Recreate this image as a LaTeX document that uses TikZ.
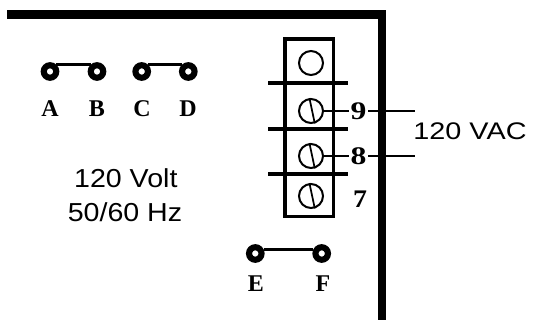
\documentclass[tikz,border=0pt]{standalone}
\usepackage{graphicx}
\usepackage{fontspec}
\setmainfont{Liberation Serif}
\newfontfamily\labelsans{Liberation Sans}

\tikzset{
  jumperpin/.style={circle, draw, line width=4.6pt, minimum size=9.4pt, inner sep=0pt},
  jumperbar/.style={line width=2.2pt},
  screw/.style={circle, draw, line width=1.5pt, minimum size=18pt, inner sep=0pt},
  pinletter/.style={anchor=base, inner sep=0pt, font=\fontsize{18}{18}\selectfont\bfseries},
  termnum/.style={inner sep=1.2pt, font=\fontsize{19}{19}\selectfont\bfseries},
  wire/.style={line width=1.1pt},
}

\begin{document}
\begin{tikzpicture}[x=0.75pt,y=0.75pt,yscale=-1,xscale=1]
\useasboundingbox (0,0) rectangle (533,320);

%Shape: Housing edge
\draw [line width=6.5pt, miter limit=10] (7,14.5) -- (382,14.5) -- (382,322) ;

%Shape: Terminal block
\draw [line width=2.6pt] (285,39) rectangle (333.5,216.5) ;
%Straight Lines
\foreach \y in {83,129,174} \draw [line width=3pt] (268,\y) -- (348,\y) ;

%Shape: Screws
\node [screw] (s0) at (311,63) {};
\node [screw] (s9) at (311,111) {};
\node [screw] (s8) at (311,156) {};
\node [screw] (s7) at (311,196) {};
\foreach \s in {s9,s8,s7} \draw [line width=1.3pt] (\s.97) -- (\s.-73) ;

% Text Node
\node [termnum] (n9) at (358.5,111) {\scalebox{1.25}[1]{9}};
\node [termnum] (n8) at (358.5,156) {\scalebox{1.25}[1]{8}};
\node [termnum] (n7) at (360,199) {\scalebox{1.1}[1]{7}};

%Straight Lines
\coordinate (v9) at (415,111);
\coordinate (v8) at (415,156);
\draw [wire] (s9) -- (n9) -- (v9) ;
\draw [wire] (s8) -- (n8) -- (v8) ;

% Text Node
\node [inner sep=0pt] (vac) at (470,131.4) {\labelsans\fontsize{18}{18}\selectfont\scalebox{1.2}[1]{120 VAC}};
\node [anchor=base, inner sep=0pt] (volt) at (125.8,187.3) {\labelsans\fontsize{19.5}{19.5}\selectfont\scalebox{1.1}[1]{120 Volt}};
\node [anchor=base, inner sep=0pt] (hz) at (125,221.7) {\labelsans\fontsize{19.5}{19.5}\selectfont\scalebox{1.1}[1]{50/60 Hz}};

%Shape: Jumpers
\foreach \n/\x/\y in {a/50/71.5, b/97/71.5, c/141.7/71.5, d/188.3/71.5, e/255.3/253.5, f/321.7/253.5}
  \node [jumperpin] (p\n) at (\x,\y) {};
\draw [jumperbar] (pa.50) -- (pb.130) ;
\draw [jumperbar] (pc.50) -- (pd.130) ;
\draw [jumperbar] (pe.25) -- (pf.155) ;

% Text Node
\foreach \n/\t/\x/\y in {a/A/50/116.7, b/B/97/116.7, c/C/142/116.7, d/D/188/116.7, e/E/256/291.7, f/F/323/291.7}
  \node [pinletter] (l\n) at (\x,\y) {\t};

\end{tikzpicture}
\end{document}
